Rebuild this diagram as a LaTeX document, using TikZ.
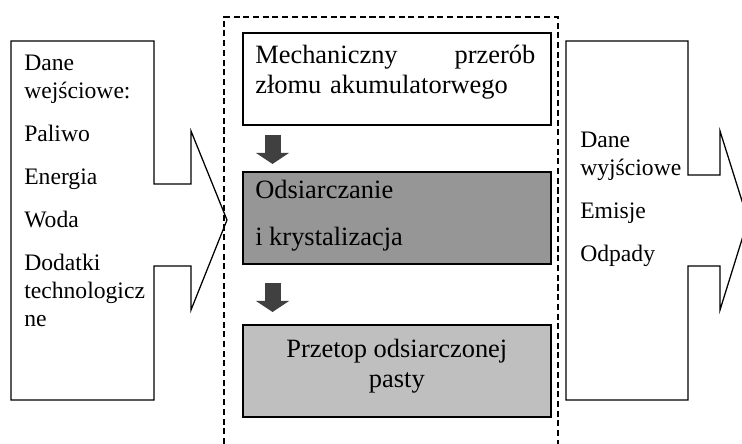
\documentclass[tikz,border=0pt]{standalone}
\usepackage{fontspec}
\setmainfont{Liberation Serif}
\usetikzlibrary{arrows.meta,calc}
\definecolor{darkstage}{gray}{0.59}
\definecolor{lightstage}{gray}{0.75}
\definecolor{arrowfill}{gray}{0.25}

\begin{document}
\begin{tikzpicture}[
  x=0.025cm, y=-0.025cm,
  stage/.style={draw, line width=1.1pt, anchor=north west, inner sep=0pt, minimum width=7.7cm, minimum height=2.3cm},
  sidetext/.style={anchor=north west, inner sep=0pt, align=left, font=\fontsize{16.8}{19.9}\selectfont},
  boxtext/.style={inner sep=0pt, font=\fontsize{18.8}{21.3}\selectfont},
  callout/.style={draw, line width=0.9pt, line join=miter},
  frame/.style={draw, line width=0.8pt, dash pattern=on 4.3pt off 2.6pt},
  flow/.style={draw=arrowfill, line width=0.4cm, -{Triangle[width=0.825cm, length=0.275cm, line width=0pt]}}
]
\useasboundingbox (0,0) rectangle (742,444);
\clip (0,0) rectangle (742,444);

% Process boundary (open at the bottom)
\draw[frame] (224,444) -- (224,17) -- (558,17) -- (558,444);

% Input block arrow
\draw[callout] (11,41) -- (154,41) -- (154,184) -- (191,184) -- (191,131) -- (227,220)
  -- (191,310) -- (191,266) -- (154,266) -- (154,400) -- (11,400) -- cycle;
\node[sidetext] (inputs) at (24,54.4) {Dane\\wejściowe:\\[10.7pt]Paliwo\\[10.7pt]Energia\\[10.7pt]Woda\\[10.7pt]Dodatki\\technologicz\\ne};

% Output block arrow
\draw[callout] (566,41) -- (688,41) -- (688,175) -- (720,175) -- (720,131) -- (748,220)
  -- (720,310) -- (720,266) -- (688,266) -- (688,400) -- (566,400) -- cycle;
\node[sidetext] (outputs) at (580,131.4) {Dane\\wyjściowe\\[10.7pt]Emisje\\[10.7pt]Odpady};

% Stages
\node[stage] (mech) at (242,32) {};
\node[stage, fill=darkstage] (desulf) at (242,171) {};
\node[stage, fill=lightstage] (smelt) at (242,324) {};

\node[boxtext, anchor=north west, text width=7cm] (mechtxt) at ($(mech.north west)+(13,13)$) {Mechaniczny\hfill przerób\\złomu akumulatorwego};
\node[boxtext, anchor=north west, align=left] (desulftxt) at ($(desulf.north west)+(13,9)$) {Odsiarczanie\\[12.1pt]i krystalizacja};
\node[boxtext, anchor=north, align=center] (smelttxt) at ($(smelt.north)+(0,15)$) {Przetop odsiarczonej\\pasty};

% Flow between stages
\draw[flow] ($(mech.south west)+(30.5,9)$) -- ($(desulf.north west)+(30.5,-7)$);
\draw[flow] ($(desulf.south west)+(30.5,18)$) -- ($(smelt.north west)+(30.5,-12)$);
\end{tikzpicture}
\end{document}
